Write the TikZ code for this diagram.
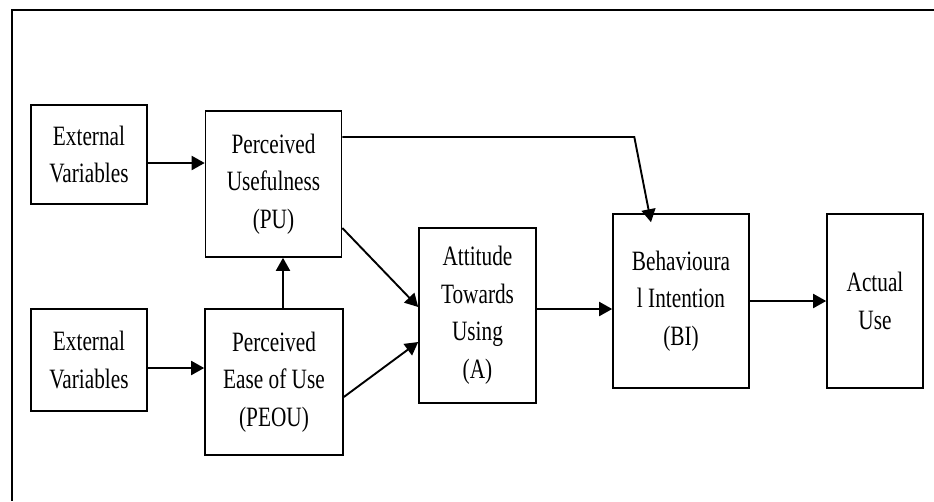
\documentclass[tikz,border=0pt]{standalone}
\usepackage{fontspec}
\setmainfont{Liberation Serif}[FakeStretch=0.76]
\usetikzlibrary{arrows.meta}

\begin{document}
\begin{tikzpicture}[x=1pt, y=-1pt,
    box/.style={draw, line width=1.6pt, align=center, inner sep=0pt,
        font=\fontsize{28}{37.5}\selectfont},
    arr/.style={line width=1.9pt, -{Triangle[length=13pt,width=14pt]}}]
    \useasboundingbox (0,0) rectangle (934,501);

    % Frame (only top and left edges show)
    \draw[line width=1.8pt] (934,10) -- (12,10) -- (12,501);

    % External variables
    \node[box, minimum width=116pt, minimum height=99pt] (ext1) at (89,154.5) {External\\Variables};
    \node[box, minimum width=116pt, minimum height=102pt] (ext2) at (89,360) {External\\Variables};

    % Perceived usefulness and ease of use
    \node[box, minimum width=136pt, minimum height=146pt] (pu) at (273.5,184) {Perceived\\Usefulness\\(PU)};
    \node[box, minimum width=138pt, minimum height=146pt] (peou) at (274,382) {Perceived\\Ease of Use\\(PEOU)};

    % Attitude, intention, use
    \node[box, minimum width=117pt, minimum height=175pt] (att) at (477.5,315.5) {Attitude\\Towards\\Using\\(A)};
    \node[box, minimum width=136pt, minimum height=174pt] (bi) at (681,301) {Behavioura\\l Intention\\(BI)};
    \node[box, minimum width=96pt, minimum height=174pt] (act) at (875,301) {Actual\\Use};

    % Connectors
    \draw[arr] ([yshift=-8.5pt]ext1.east) -- ([yshift=-8.5pt]ext1.east -| pu.west);
    \draw[arr] ([yshift=-8pt]ext2.east) -- ([yshift=-8pt]ext2.east -| peou.west);
    \draw[arr] ([xshift=9pt]peou.north) -- ([xshift=9pt]peou.north |- pu.south);
    \draw[arr] ([yshift=-44pt]pu.east) -- ([yshift=8.5pt]att.west);
    \draw[arr] ([yshift=-15pt]peou.east) -- ([yshift=-26.5pt]att.west);
    \draw[arr] ([yshift=47pt]pu.east) -- ++(292,0) -- ([xshift=-30pt,yshift=-9pt]bi.north);
    \draw[arr] ([yshift=6.5pt]att.east) -- ([yshift=6.5pt]att.east -| bi.west);
    \draw[arr] (bi.east) -- (act.west);

\end{tikzpicture}
\end{document}
